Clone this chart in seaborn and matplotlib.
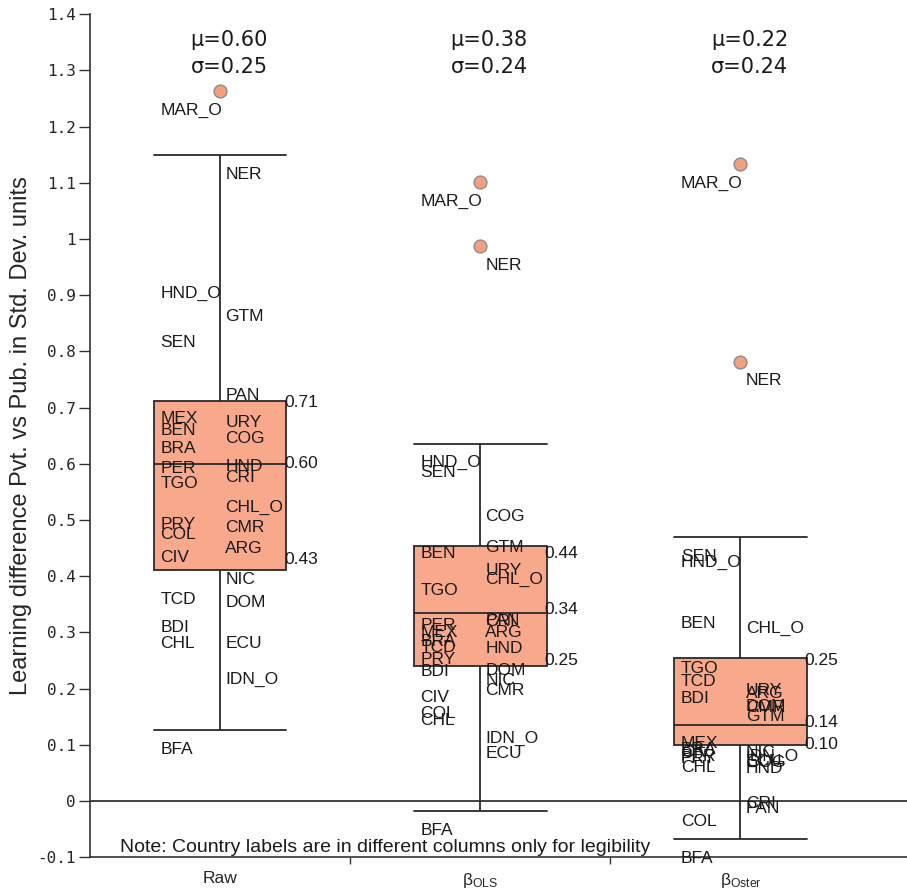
import numpy as np
import pandas as pd
import matplotlib.pyplot as plt
import seaborn as sns

# --- data ---
methods = ["Raw", "OLS", "Oster"]
tick_labels = ["Raw", r"$\mathregular{β_{OLS}}$", r"$\mathregular{β_{Oster}}$"]

# box statistics (whisker low, Q1, median, Q3, whisker high)
whis_lo = [0.126, -0.018, -0.068]
q1 = [0.411, 0.240, 0.100]
med = [0.600, 0.335, 0.135]
q3 = [0.711, 0.454, 0.255]
whis_hi = [1.149, 0.636, 0.470]

# numbers printed next to each box (Q3, median, Q1)
box_numbers = [[0.71, 0.60, 0.43], [0.44, 0.34, 0.25], [0.25, 0.14, 0.10]]

mu = [0.60, 0.38, 0.22]
sigma = [0.25, 0.24, 0.24]

countries = ["MAR_O", "NER", "HND_O", "SEN", "GTM", "PAN", "MEX", "URY", "BEN", "COG",
             "BRA", "PER", "HND", "CRI", "TGO", "CHL_O", "PRY", "CMR", "COL", "ARG",
             "CIV", "NIC", "TCD", "DOM", "BDI", "CHL", "ECU", "IDN_O", "BFA"]
left_side = ["MAR_O", "HND_O", "SEN", "MEX", "BEN", "BRA", "PER", "TGO", "PRY", "COL",
             "CIV", "TCD", "BDI", "CHL", "BFA"]

raw_vals = [1.263, 1.149, 0.937, 0.850, 0.896, 0.755, 0.714, 0.707, 0.693, 0.679,
            0.661, 0.625, 0.629, 0.609, 0.599, 0.556, 0.526, 0.520, 0.508, 0.483,
            0.467, 0.429, 0.392, 0.387, 0.342, 0.314, 0.315, 0.251, 0.125]
ols_vals = [1.101, 0.987, 0.636, 0.618, 0.485, 0.356, 0.333, 0.445, 0.474, 0.540,
            0.317, 0.346, 0.305, 0.353, 0.408, 0.429, 0.285, 0.230, 0.189, 0.333,
            0.219, 0.248, 0.307, 0.267, 0.264, 0.177, 0.118, 0.146, -0.018]
oster_vals = [1.133, 0.782, 0.458, 0.470, 0.185, 0.020, 0.137, 0.230, 0.349, 0.102,
              0.125, 0.114, 0.091, 0.030, 0.269, 0.342, 0.109, 0.200, -0.002, 0.226,
              0.120, 0.120, 0.246, 0.203, 0.216, 0.093, 0.105, 0.114, -0.068]

box_color = "#F8A98B"
dot_color = "#F4A07C"
label_font = ["Liberation Sans", "DejaVu Sans"]

sns.set_style("ticks")
plt.rcParams["font.family"] = label_font

# long table of country values
df = pd.DataFrame({"country": countries * 3,
                   "method": np.repeat(methods, len(countries)),
                   "value": raw_vals + ols_vals + oster_vals})
df["pos"] = df["method"].map({m: i for i, m in enumerate(methods)})
df["outlier"] = df["value"] > df["pos"].map(dict(enumerate(whis_hi))) + 0.02

# five-number summary rows so seaborn draws the boxes as in the reference
box_df = pd.DataFrame({
    "method": np.repeat(methods, 5),
    "value": np.column_stack([whis_lo, q1, med, q3, whis_hi]).ravel(),
})

fig = plt.figure(figsize=(9.07, 8.92), dpi=100)
ax = fig.add_axes([0.099, 0.039, 0.901, 0.945])

width = 0.51
sns.boxplot(data=box_df, x="method", y="value", order=methods, width=width,
            whis=(0, 100), color=box_color, saturation=1, linecolor="#2a2a2a",
            linewidth=1.3, capwidths=width, showfliers=False, ax=ax)

# outliers
out = df[df["outlier"]]
sns.scatterplot(data=out, x="pos", y="value", s=85, color=dot_color,
                edgecolor="#8c8c8c", linewidth=1.0, zorder=5, legend=False, ax=ax)

# country labels (drawn just below their value)
for _, r in df.iterrows():
    if r["country"] in left_side:
        x = r["pos"] - 0.229
    else:
        x = r["pos"] + 0.02
    ax.text(x, r["value"] - 0.034, r["country"], ha="left", va="center",
            fontsize=12.5, color="#1a1a1a", zorder=6)

# numbers at the right edge of each box
for i, nums in enumerate(box_numbers):
    for v in nums:
        ax.text(i + width / 2 - 0.008, v, f"{v:.2f}", ha="left", va="center",
                fontsize=12.5, color="#1a1a1a", zorder=6)

# mean / sd on top
for i in range(len(methods)):
    ax.text(i + 0.035, 1.354, f"μ={mu[i]:.2f}", ha="center", va="center",
            fontsize=15, family=["DejaVu Sans"], color="#1a1a1a")
    ax.text(i + 0.035, 1.306, f"σ={sigma[i]:.2f}", ha="center", va="center",
            fontsize=15, family=["DejaVu Sans"], color="#1a1a1a")

ax.axhline(0, color="#222222", lw=1.2, zorder=1)

ax.text(-0.384, -0.083, "Note: Country labels are in different columns only for legibility",
        ha="left", va="center", fontsize=14, color="#1a1a1a")

# axes styling
ax.set_xlim(-0.5, 2.64)
ax.set_ylim(-0.1, 1.4)
yt = np.round(np.arange(-0.1, 1.41, 0.1), 1)
ax.set_yticks(yt)
ax.set_yticklabels([f"{v:g}" for v in yt], family=["DejaVu Sans Mono"], fontsize=11.5)
ax.set_xticks(range(len(methods)))
ax.set_xticklabels(tick_labels, fontsize=12.5)
ax.set_xticks([0.5, 1.5], minor=True)
ax.tick_params(axis="x", which="major", length=0, pad=10)
ax.tick_params(axis="x", which="minor", length=5, width=1, color="#333333")
ax.tick_params(axis="y", length=8, width=1, color="#333333", pad=2)
ax.set_xlabel("")
ax.set_ylabel("Learning difference Pvt. vs Pub. in Std. Dev. units", fontsize=17,
              labelpad=4)
for s in ["top", "right"]:
    ax.spines[s].set_visible(False)
for s in ["left", "bottom"]:
    ax.spines[s].set_color("#333333")
    ax.spines[s].set_linewidth(1.2)

fig.savefig("out.png", dpi=100)
